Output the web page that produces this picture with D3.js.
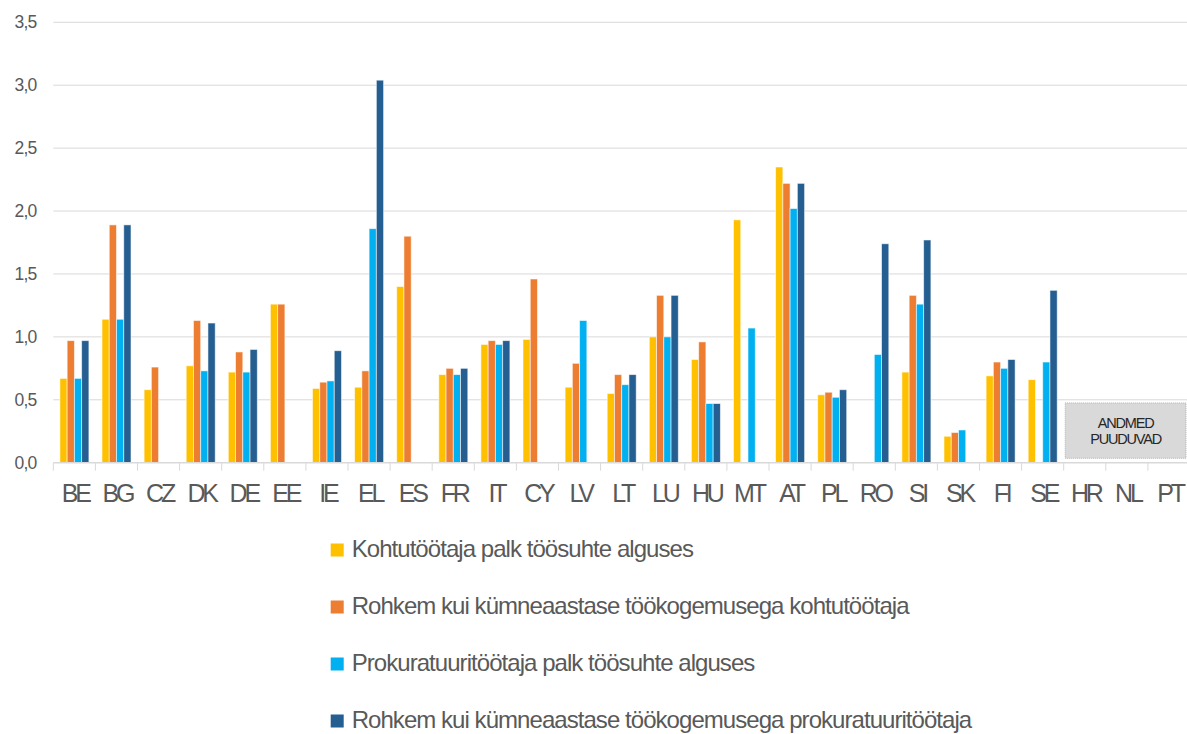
<!DOCTYPE html>
<html><head><meta charset="utf-8">
<script src="https://cdn.jsdelivr.net/npm/d3@7"></script>
<style>
body{margin:0;background:#fff;}
svg{display:block;font-family:"Liberation Sans",Arial,sans-serif;}
</style></head>
<body><svg id="c" width="1187" height="734"></svg>
<script>
const categories = ["BE","BG","CZ","DK","DE","EE","IE","EL","ES","FR","IT","CY","LV","LT","LU","HU","MT","AT","PL","RO","SI","SK","FI","SE","HR","NL","PT"];
const seriesNames = ["Kohtutöötaja palk töösuhte alguses","Rohkem kui kümneaastase töökogemusega kohtutöötaja","Prokuratuuritöötaja palk töösuhte alguses","Rohkem kui kümneaastase töökogemusega prokuratuuritöötaja"];
const judgeStart   = [0.67,1.14,0.58,0.77,0.72,1.26,0.59,0.60,1.40,0.70,0.94,0.98,0.60,0.55,1.00,0.82,1.93,2.35,0.54,null,0.72,0.21,0.69,0.66,null,null,null];
const judgeSenior  = [0.97,1.89,0.76,1.13,0.88,1.26,0.64,0.73,1.80,0.75,0.97,1.46,0.79,0.70,1.33,0.96,null,2.22,0.56,null,1.33,0.24,0.80,null,null,null,null];
const prosStart    = [0.67,1.14,null,0.73,0.72,null,0.65,1.86,null,0.70,0.94,null,1.13,0.62,1.00,0.47,1.07,2.02,0.52,0.86,1.26,0.26,0.75,0.80,null,null,null];
const prosSenior   = [0.97,1.89,null,1.11,0.90,null,0.89,3.04,null,0.75,0.97,null,null,0.70,1.33,0.47,null,2.22,0.58,1.74,1.77,null,0.82,1.37,null,null,null];
const yTicks = [0,0.5,1.0,1.5,2.0,2.5,3.0,3.5];
const colors = ["#FFC000","#ED7D31","#00B0F0","#255E91"];
const missingLabel = ["ANDMED","PUUDUVAD"];
const missingCats = ["HR","NL","PT"];

const allSeries = [judgeStart, judgeSenior, prosStart, prosSenior];
const svg = d3.select("#c");
const x = d3.scaleBand().domain(categories).range([53.3, 1190]).padding(0);
const x1 = d3.scaleBand().domain(d3.range(4)).range([6.6, 35.6]);
const y = d3.scaleLinear().domain([0,3.5]).range([462.7, 22.3]);
const fmt = v => d3.format(".1f")(v).replace(".", ",");

// gridlines
svg.append("g").selectAll("line").data(yTicks.slice(1)).join("line")
  .attr("x1", 53.3).attr("x2", 1187).attr("y1", d=>y(d)).attr("y2", d=>y(d))
  .attr("stroke", "#d9d9d9").attr("stroke-width", 1);

// y labels
svg.append("g").selectAll("text").data(yTicks).join("text")
  .attr("x", 36.5).attr("y", d=>y(d)+6).attr("text-anchor","end")
  .attr("font-size", 17.5).attr("letter-spacing", -0.8).attr("fill", "#595959").text(fmt);

// bars
const rows = categories.map((c,i)=>({c, vals: allSeries.map(s=>s[i])}));
const g = svg.append("g");
rows.forEach(r=>{
  r.vals.forEach((v,k)=>{
    if (v==null) return;
    g.append("rect").attr("x", x(r.c)+x1(k)).attr("width", x1.bandwidth())
      .attr("y", y(v)).attr("height", y(0)-y(v))
      .attr("fill", colors[k]).attr("stroke", "#fff").attr("stroke-width", 0.9).attr("stroke-opacity", 0.6);
  });
});

// x axis line and ticks
svg.append("line").attr("x1",53.3).attr("x2",1187).attr("y1",y(0)).attr("y2",y(0)).attr("stroke","#d9d9d9").attr("stroke-width",1.5);
svg.append("g").selectAll("line").data(categories).join("line")
  .attr("x1", d=>x(d)).attr("x2", d=>x(d)).attr("y1", y(0)).attr("y2", y(0)+8)
  .attr("stroke","#d9d9d9").attr("stroke-width",1);
svg.append("g").selectAll("text").data(categories).join("text")
  .attr("x", d=>x(d)+x.bandwidth()/2+1).attr("y", 502).attr("text-anchor","middle")
  .attr("font-size", 25).attr("letter-spacing", -3.2).attr("fill","#595959").text(d=>d);

// missing data box
const bx0 = x(missingCats[0]) + 1.5, bx1 = 1186;
svg.append("rect").attr("x", bx0).attr("y", y(0.475)).attr("width", bx1-bx0).attr("height", y(0.035)-y(0.475))
  .attr("fill","#d9d9d9").attr("stroke","#a6a6a6").attr("stroke-width",0.8).attr("stroke-dasharray","1,1");
svg.append("g").selectAll("text").data(missingLabel).join("text")
  .attr("x", (bx0+bx1)/2).attr("y", (d,i)=>427.5+i*16.5).attr("text-anchor","middle")
  .attr("font-size", 14.5).attr("letter-spacing", -1.2).attr("fill","#262626").text(d=>d);

// legend
const leg = svg.append("g");
seriesNames.forEach((n,i)=>{
  const cy = 550 + i*57;
  leg.append("rect").attr("x",330.7).attr("y",cy-6.5).attr("width",13).attr("height",13).attr("fill",colors[i]);
  leg.append("text").attr("x",351.7).attr("y",cy+6.7).attr("font-size",24).attr("letter-spacing",-0.95)
    .attr("fill","#595959").text(n);
});
</script></body></html>
